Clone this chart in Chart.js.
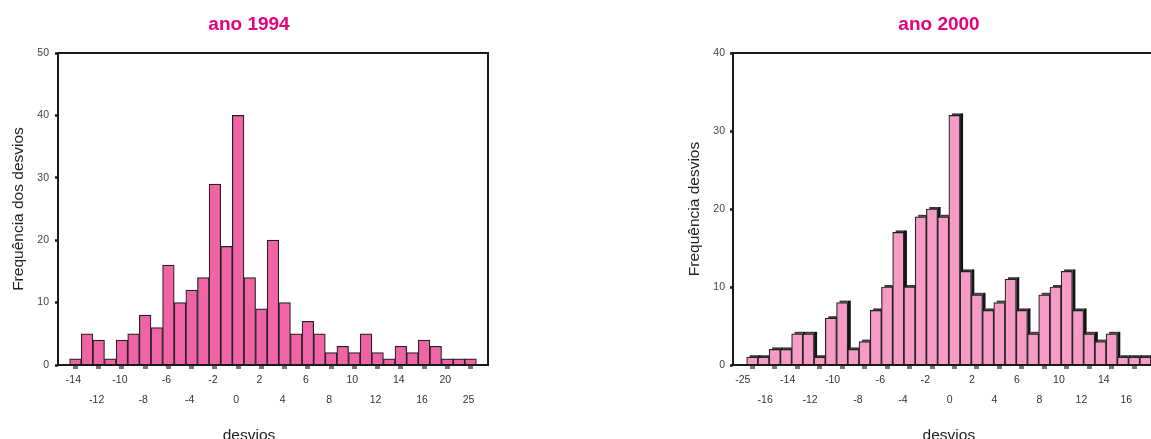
<!DOCTYPE html>
<html>
<head>
<meta charset="utf-8">
<script src="https://cdn.jsdelivr.net/npm/chart.js@4"></script>
<style>
  html, body { margin:0; padding:0; width:1151px; height:439px; overflow:hidden; background:#fff; }
  canvas { position:absolute; top:0; }
  #c1994 { left:0; }
  #c2000 { left:680px; }
</style>
</head>
<body>
<canvas id="c1994" width="498" height="450" style="width:498px;height:450px"></canvas>
<canvas id="c2000" width="518" height="450" style="width:518px;height:450px"></canvas>
<script>
// ---- data ----
const categories1994 = [-14,-13,-12,-11,-10,-9,-8,-7,-6,-5,-4,-3,-2,-1,0,1,2,3,4,5,6,7,8,9,10,11,12,13,14,15,16,18,20,22,25];
const freq1994 = [1,5,4,1,4,5,8,6,16,10,12,14,29,19,40,14,9,20,10,5,7,5,2,3,2,5,2,1,3,2,4,3,1,1,1];

const categories2000 = [-25,-18,-16,-15,-14,-13,-12,-11,-10,-9,-8,-7,-6,-5,-4,-3,-2,-1,0,1,2,3,4,5,6,7,8,9,10,11,12,13,14,15,16,17];
const freq2000 = [1,1,2,2,4,4,1,6,8,2,3,7,10,17,10,19,20,19,32,12,9,7,8,11,7,4,9,10,12,7,4,3,4,1,1,1];

const yTicks1994 = [0,10,20,30,40,50];
const yTicks2000 = [0,10,20,30,40];

Chart.defaults.font.family = "'Liberation Sans', Arial, Helvetica, sans-serif";
Chart.defaults.animation = false;

const framePlugin = {
  id: 'frame',
  afterDatasetsDraw(chart) {
    const {ctx, chartArea: a} = chart;
    ctx.save();
    ctx.strokeStyle = '#1a1a1a';
    ctx.lineWidth = 2;
    ctx.strokeRect(a.left, a.top, a.right - a.left, a.bottom - a.top);
    ctx.restore();
  }
};

const shadowPlugin = {
  id: 'barShadow',
  beforeDatasetsDraw(chart) {
    const ctx = chart.ctx;
    const meta = chart.getDatasetMeta(0);
    ctx.save();
    meta.data.forEach(bar => {
      const {x, y, base, width} = bar.getProps(['x','y','base','width'], true);
      const left = x - width / 2, right = x + width / 2;
      ctx.fillStyle = '#151515';
      ctx.fillRect(right, y - 2, 3, base - y + 2);
      ctx.fillStyle = '#3a3a3a';
      ctx.fillRect(left + 3, y - 2, width - 3, 2);
    });
    ctx.restore();
  }
};

function makeChart(id, cfg) {
  const {categories, values, yTicks, title, yTitle, barColor, xMin, xMax,
         yWidth, rightWidth, xAlign, useSubtitle, plugins} = cfg;
  const points = values.map((v, i) => ({x: i + 1, y: v}));
  const xHeight = useSubtitle ? 61.7 : 85;
  return new Chart(document.getElementById(id), {
    type: 'bar',
    data: {
      datasets: [{
        data: points,
        backgroundColor: barColor,
        borderColor: '#222',
        borderWidth: 1.2,
        barPercentage: 1,
        categoryPercentage: 1
      }]
    },
    options: {
      responsive: false,
      animation: false,
      layout: { padding: 0, autoPadding: false },
      plugins: {
        legend: { display: false },
        tooltip: { enabled: false },
        title: {
          display: true, text: title, color: '#E5007E',
          font: { size: 19, weight: 'bold' },
          padding: { top: 13.6, bottom: 16.6 }
        },
        subtitle: {
          display: !!useSubtitle, text: 'desvios', position: 'bottom', color: '#222',
          font: { size: 15.5, weight: 'normal' },
          padding: { top: 0, bottom: 4.7 }
        }
      },
      scales: {
        x: {
          type: 'linear',
          min: xMin, max: xMax,
          offset: false,
          grid: { display: true, drawOnChartArea: false, drawTicks: true, tickLength: 4, tickWidth: 5, color: '#777', offset: false },
          border: { display: false },
          afterBuildTicks(scale) {
            scale.ticks = categories.map((c, i) => i).filter(i => i % 2 === 0).map(i => ({ value: i + 1 }));
          },
          afterFit(scale) { scale.height = xHeight; },
          ticks: {
            autoSkip: false, maxRotation: 0, minRotation: 0,
            color: '#333', padding: 1,
            align: xAlign, labelOffset: -2,
            font: { size: 10.5, lineHeight: 1.9 },
            callback(value) {
              const i = Math.round(value) - 1;
              const label = String(categories[i]);
              return (i / 2) % 2 === 0 ? label : ['', label];
            }
          },
          title: {
            display: !useSubtitle, text: 'desvios', color: '#222',
            font: { size: 15.5 }, padding: { top: 0, bottom: 4.7 }
          }
        },
        y: {
          min: yTicks[0], max: yTicks[yTicks.length - 1],
          afterBuildTicks(scale) { scale.ticks = yTicks.map(v => ({ value: v })); },
          afterFit(scale) { scale.width = yWidth; },
          grid: { display: true, drawOnChartArea: false, drawTicks: true, tickLength: 3, tickWidth: 2.5, color: '#1a1a1a' },
          border: { display: false },
          ticks: { color: '#444', padding: cfg.yPad, font: { size: 10.5 } },
          title: {
            display: true, text: yTitle, color: '#222',
            font: { size: 15.5 }, padding: { top: cfg.yTitlePad, bottom: 0 }
          }
        },
        y2: {
          position: 'right', display: true,
          grid: { display: false }, border: { display: false }, ticks: { display: false },
          afterFit(scale) { scale.width = rightWidth; }
        }
      }
    },
    plugins: plugins
  });
}

makeChart('c1994', {
  categories: categories1994, values: freq1994, yTicks: yTicks1994,
  title: 'ano 1994', yTitle: 'Frequência dos desvios', barColor: '#F064A5',
  xMin: -0.5, xMax: 36.5, yWidth: 58, rightWidth: 10, xAlign: 'center',
  useSubtitle: true, yPad: 6, yTitlePad: 9.7, plugins: [framePlugin]
});

makeChart('c2000', {
  categories: categories2000, values: freq2000, yTicks: yTicks2000,
  title: 'ano 2000', yTitle: 'Frequência desvios', barColor: '#F59BC5',
  xMin: -0.72, xMax: 37.72, yWidth: 53, rightWidth: 33.3, xAlign: 'end',
  useSubtitle: false, yPad: 5, yTitlePad: 5.7, plugins: [shadowPlugin, framePlugin]
});
</script>
</body>
</html>
